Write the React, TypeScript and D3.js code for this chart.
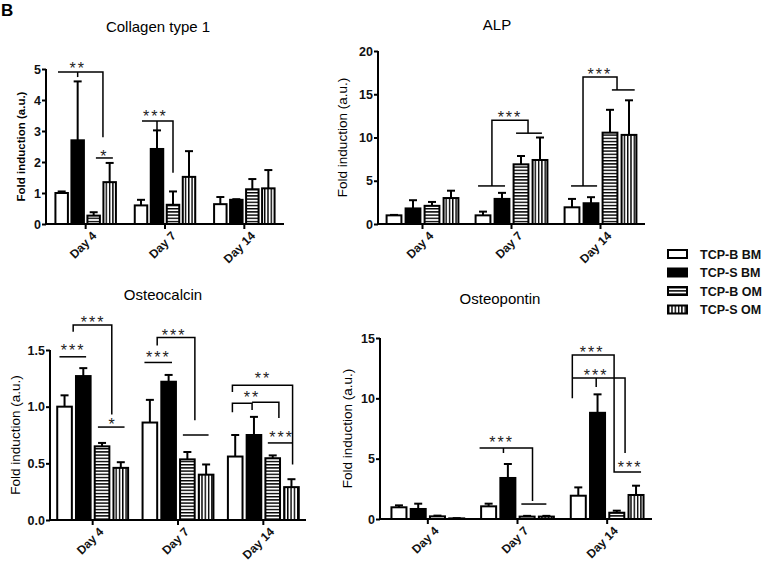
import React, { useRef, useEffect } from 'react';
import * as d3 from 'd3';

const DAYS = ['Day 4', 'Day 7', 'Day 14'];
const GROUPS = ['TCP-B BM', 'TCP-S BM', 'TCP-B OM', 'TCP-S OM'];
const FILLS = ['#ffffff', '#000000', 'url(#hstripe)', 'url(#vstripe)'];

// means and SDs: one row per day, one column per group
const COLLAGEN_MEAN = [
  [1.0, 2.7, 0.27, 1.35],
  [0.6, 2.42, 0.62, 1.52],
  [0.64, 0.78, 1.12, 1.15],
];
const COLLAGEN_SD = [
  [0.05, 1.9, 0.11, 0.62],
  [0.18, 0.6, 0.43, 0.83],
  [0.23, 0.02, 0.33, 0.59],
];
const ALP_MEAN = [
  [1.0, 1.8, 2.1, 3.0],
  [1.0, 2.9, 6.9, 7.4],
  [1.93, 2.4, 10.56, 10.3],
];
const ALP_SD = [
  [0.05, 0.95, 0.45, 0.85],
  [0.43, 0.7, 0.96, 2.6],
  [0.97, 0.7, 2.64, 4.0],
];
const OCN_MEAN = [
  [1.0, 1.27, 0.65, 0.46],
  [0.86, 1.22, 0.535, 0.4],
  [0.56, 0.75, 0.545, 0.29],
];
const OCN_SD = [
  [0.1, 0.07, 0.03, 0.05],
  [0.2, 0.06, 0.065, 0.09],
  [0.19, 0.16, 0.025, 0.07],
];
const OPN_MEAN = [
  [0.97, 0.83, 0.22, 0.05],
  [1.05, 3.4, 0.2, 0.2],
  [1.93, 8.8, 0.52, 1.99],
];
const OPN_SD = [
  [0.16, 0.44, 0.06, 0.02],
  [0.22, 1.16, 0.06, 0.06],
  [0.69, 1.53, 0.17, 0.77],
];

// significance brackets: day index, points as [bar slot, value]
type Bracket = { day: number; pts: [number, number][] };
type Stars = { day: number; slot: number; value: number; text: string };

const COLLAGEN_BRACKETS: Bracket[] = [
  { day: 0, pts: [[-0.23, 4.9], [2.58, 4.9], [2.58, 2.8]] },
  { day: 0, pts: [[1, 4.9], [1, 4.74]] },
  { day: 0, pts: [[2.14, 2.13], [3.2, 2.13]] },
  { day: 1, pts: [[0.06, 3.32], [2.0, 3.32], [2.0, 1.65]] },
  { day: 1, pts: [[1, 3.32], [1, 2.97]] },
];
const COLLAGEN_STARS: Stars[] = [
  { day: 0, slot: 1, value: 5.13, text: '**' },
  { day: 0, slot: 2.67, value: 2.32, text: '*' },
  { day: 1, slot: 0.9, value: 3.61, text: '***' },
];

const ALP_BRACKETS: Bracket[] = [
  { day: 1, pts: [[-0.26, 4.4], [1.16, 4.4]] },
  { day: 1, pts: [[0.47, 4.4], [0.47, 12.0], [2.37, 12.0], [2.37, 10.5]] },
  { day: 1, pts: [[1.74, 10.5], [3.1, 10.5]] },
  { day: 2, pts: [[-0.05, 4.4], [1.32, 4.4]] },
  { day: 2, pts: [[0.58, 4.4], [0.58, 17.0], [2.37, 17.0], [2.37, 15.5]] },
  { day: 2, pts: [[2.1, 15.5], [3.3, 15.5]] },
];
const ALP_STARS: Stars[] = [
  { day: 1, slot: 1.42, value: 12.83, text: '***' },
  { day: 2, slot: 1.47, value: 17.8, text: '***' },
];

const OCN_BRACKETS: Bracket[] = [
  { day: 0, pts: [[-0.27, 1.44], [1.15, 1.44]] },
  { day: 0, pts: [[0.46, 1.66], [0.46, 1.72], [2.52, 1.72], [2.52, 0.93]] },
  { day: 0, pts: [[1.78, 0.82], [3.2, 0.82]] },
  { day: 1, pts: [[-0.29, 1.39], [1.18, 1.39]] },
  { day: 1, pts: [[0.39, 1.54], [0.39, 1.61], [2.4, 1.61], [2.4, 0.88]] },
  { day: 1, pts: [[1.76, 0.75], [3.13, 0.75]] },
  { day: 2, pts: [[-0.15, 1.13], [-0.15, 1.19], [3.06, 1.19], [3.06, 0.49]] },
  { day: 2, pts: [[-0.15, 0.95], [-0.15, 1.03], [0.9, 1.03], [0.9, 0.97]] },
  { day: 2, pts: [[0.9, 1.04], [2.33, 1.04], [2.33, 0.9]] },
  { day: 2, pts: [[1.74, 0.68], [3.06, 0.68]] },
];
const OCN_STARS: Stars[] = [
  { day: 0, slot: 0.46, value: 1.527, text: '***' },
  { day: 0, slot: 1.52, value: 1.78, text: '***' },
  { day: 0, slot: 2.56, value: 0.88, text: '*' },
  { day: 1, slot: 0.45, value: 1.465, text: '***' },
  { day: 1, slot: 1.29, value: 1.66, text: '***' },
  { day: 2, slot: 1.48, value: 1.28, text: '**' },
  { day: 2, slot: 0.9, value: 1.12, text: '**' },
  { day: 2, slot: 2.48, value: 0.76, text: '***' },
];

const OPN_BRACKETS: Bracket[] = [
  { day: 1, pts: [[-0.47, 5.88], [2.28, 5.88], [2.28, 1.49]] },
  { day: 1, pts: [[0.77, 5.88], [0.77, 5.47]] },
  { day: 1, pts: [[1.7, 1.24], [3.0, 1.24]] },
  { day: 2, pts: [[-0.31, 10.0], [-0.31, 13.6], [1.86, 13.6], [1.86, 3.9], [3.26, 3.9]] },
  { day: 2, pts: [[-0.31, 11.68], [2.43, 11.68], [2.43, 5.47]] },
  { day: 2, pts: [[0.93, 11.68], [0.93, 10.94]] },
];
const OPN_STARS: Stars[] = [
  { day: 1, slot: 0.67, value: 6.63, text: '***' },
  { day: 2, slot: 0.72, value: 14.17, text: '***' },
  { day: 2, slot: 0.93, value: 12.26, text: '***' },
  { day: 2, slot: 2.69, value: 4.64, text: '***' },
];

const FONT = '"Liberation Sans", Arial, sans-serif';

interface Panel {
  title: string;
  mean: number[][];
  sd: number[][];
  yMax: number;
  yTicks: number[];
  fmt: string;
  axisX: number;
  bandX0: number;
  bandX1: number;
  y0: number;
  y1: number;
  groupWidth: number;
  titleX: number;
  titleY: number;
  labelX: number;
  labelSize: number;
  labelWeight: string;
  brackets: Bracket[];
  stars: Stars[];
}

const PANELS: Panel[] = [
  {
    title: 'Collagen type 1', mean: COLLAGEN_MEAN, sd: COLLAGEN_SD, yMax: 5, yTicks: [0, 1, 2, 3, 4, 5], fmt: 'd',
    axisX: 46, bandX0: 46, bandX1: 284, y0: 224, y1: 69, groupWidth: 64,
    titleX: 158, titleY: 32, labelX: 25, labelSize: 11.5, labelWeight: 'bold',
    brackets: COLLAGEN_BRACKETS, stars: COLLAGEN_STARS,
  },
  {
    title: 'ALP', mean: ALP_MEAN, sd: ALP_SD, yMax: 20, yTicks: [0, 5, 10, 15, 20], fmt: 'd',
    axisX: 378, bandX0: 378, bandX1: 645, y0: 224, y1: 51, groupWidth: 76,
    titleX: 497, titleY: 30, labelX: 347, labelSize: 13.5, labelWeight: 'normal',
    brackets: ALP_BRACKETS, stars: ALP_STARS,
  },
  {
    title: 'Osteocalcin', mean: OCN_MEAN, sd: OCN_SD, yMax: 1.5, yTicks: [0, 0.5, 1, 1.5], fmt: '.1f',
    axisX: 50, bandX0: 50, bandX1: 306, y0: 520, y1: 350, groupWidth: 75,
    titleX: 163, titleY: 300, labelX: 20, labelSize: 13.5, labelWeight: 'normal',
    brackets: OCN_BRACKETS, stars: OCN_STARS,
  },
  {
    title: 'Osteopontin', mean: OPN_MEAN, sd: OPN_SD, yMax: 15, yTicks: [0, 5, 10, 15], fmt: 'd',
    axisX: 380, bandX0: 383, bandX1: 652, y0: 519, y1: 338, groupWidth: 77,
    titleX: 500, titleY: 304, labelX: 352, labelSize: 13.5, labelWeight: 'normal',
    brackets: OPN_BRACKETS, stars: OPN_STARS,
  },
];

const W = 768;
const H = 569;

export default function App() {
  const svgRef = useRef<SVGSVGElement>(null);

  useEffect(() => {
    if (!svgRef.current) return;
    const svg = d3.select(svgRef.current);
    svg.selectAll('*').remove();

    // hatch patterns
    const defs = svg.append('defs');
    const h = defs.append('pattern').attr('id', 'hstripe')
      .attr('patternUnits', 'userSpaceOnUse').attr('width', 6).attr('height', 3.2);
    h.append('rect').attr('width', 6).attr('height', 3.2).attr('fill', '#fff');
    h.append('rect').attr('y', 0).attr('width', 6).attr('height', 1.4).attr('fill', '#000');
    const v = defs.append('pattern').attr('id', 'vstripe')
      .attr('patternUnits', 'userSpaceOnUse').attr('width', 3.3).attr('height', 6);
    v.append('rect').attr('width', 3.3).attr('height', 6).attr('fill', '#fff');
    v.append('rect').attr('x', 0).attr('width', 1.4).attr('height', 6).attr('fill', '#000');

    svg.append('text')
      .attr('x', 1).attr('y', 16)
      .attr('font-family', FONT).attr('font-size', 17).attr('font-weight', 'bold')
      .text('B');

    PANELS.forEach((p) => {
      const g = svg.append('g');
      const x = d3.scaleBand<string>().domain(DAYS).range([p.bandX0, p.bandX1]);
      const y = d3.scaleLinear().domain([0, p.yMax]).range([p.y0, p.y1]);
      const step = p.groupWidth / GROUPS.length;
      const barW = step * 0.78;
      const slotX = (day: number, slot: number) =>
        (x(DAYS[day]) ?? 0) + x.bandwidth() / 2 + (slot - 1.5) * step;

      // title
      g.append('text')
        .attr('x', p.titleX).attr('y', p.titleY)
        .attr('text-anchor', 'middle')
        .attr('font-family', FONT).attr('font-size', 15)
        .text(p.title);

      // y label
      g.append('text')
        .attr('transform', `translate(${p.labelX}, ${(p.y0 + p.y1) / 2}) rotate(-90)`)
        .attr('text-anchor', 'middle')
        .attr('font-family', FONT).attr('font-size', p.labelSize).attr('font-weight', p.labelWeight)
        .text('Fold induction (a.u.)');

      // bars
      p.mean.forEach((row, di) => {
        row.forEach((m, gi) => {
          const cx = slotX(di, gi);
          const top = y(m + p.sd[di][gi]);
          g.append('line')
            .attr('x1', cx).attr('x2', cx)
            .attr('y1', y(m)).attr('y2', top)
            .attr('stroke', '#000').attr('stroke-width', 2);
          g.append('line')
            .attr('x1', cx - 4).attr('x2', cx + 4)
            .attr('y1', top).attr('y2', top)
            .attr('stroke', '#000').attr('stroke-width', 2);
          g.append('rect')
            .attr('x', cx - barW / 2).attr('y', y(m))
            .attr('width', barW).attr('height', Math.max(0.5, p.y0 - y(m)))
            .attr('fill', FILLS[gi])
            .attr('stroke', '#000').attr('stroke-width', 2);
        });
      });

      // y axis
      const ya = g.append('g')
        .attr('transform', `translate(${p.axisX}, 0)`)
        .call(d3.axisLeft(y).tickValues(p.yTicks).tickFormat(d3.format(p.fmt)).tickSize(4).tickPadding(1));
      ya.select('.domain').attr('stroke-width', 2).attr('d', `M0,${p.y0 + 1}V${p.y1}`);
      ya.selectAll('.tick line').attr('stroke-width', 2);
      ya.selectAll('.tick text')
        .attr('font-family', FONT).attr('font-size', 12.5).attr('font-weight', 'bold').attr('fill', '#111');

      // x axis
      const xa = g.append('g')
        .attr('transform', `translate(0, ${p.y0})`)
        .call(d3.axisBottom(x).tickSize(5).tickSizeOuter(0));
      xa.select('.domain').attr('stroke-width', 2).attr('d', `M${p.axisX - 1},0H${p.bandX1}`);
      xa.selectAll('.tick line').attr('stroke-width', 2);
      xa.selectAll('.tick text')
        .attr('font-family', FONT).attr('font-size', 12).attr('font-weight', 'bold').attr('fill', '#111')
        .attr('text-anchor', 'end')
        .attr('transform', 'translate(3, 4) rotate(-45)')
        .attr('dy', '0.35em');

      // significance brackets
      const line = d3.line<[number, number]>();
      p.brackets.forEach((b) => {
        g.append('path')
          .attr('d', line(b.pts.map(([s, val]) => [slotX(b.day, s), y(val)] as [number, number])))
          .attr('fill', 'none').attr('stroke', '#000').attr('stroke-width', 1.5);
      });
      p.stars.forEach((s) => {
        g.append('text')
          .attr('x', slotX(s.day, s.slot)).attr('y', y(s.value) + 9.5)
          .attr('text-anchor', 'middle')
          .attr('font-family', FONT).attr('font-size', 16).attr('letter-spacing', 2)
          .attr('fill', '#222')
          .text(s.text);
      });
    });

    // legend
    const leg = svg.append('g').attr('transform', 'translate(668, 250)');
    GROUPS.forEach((name, i) => {
      const row = leg.append('g').attr('transform', `translate(0, ${i * 18.5})`);
      row.append('rect')
        .attr('x', 0).attr('y', 0).attr('width', 19).attr('height', 8)
        .attr('fill', FILLS[i]).attr('stroke', '#000').attr('stroke-width', 2);
      row.append('text')
        .attr('x', 32).attr('y', 8.5)
        .attr('font-family', FONT).attr('font-size', 12.5).attr('font-weight', 'bold')
        .attr('fill', '#111')
        .text(name);
    });
  }, []);

  return (
    <svg
      ref={svgRef}
      width={W}
      height={H}
      style={{ position: 'absolute', left: 0, top: 0, background: '#fff' }}
    />
  );
}
